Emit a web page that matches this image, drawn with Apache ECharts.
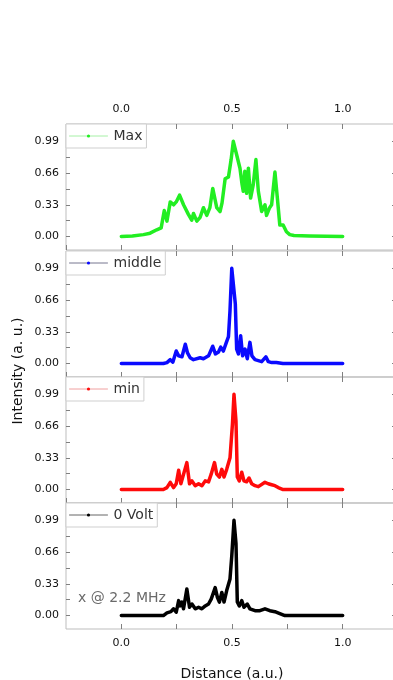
<!DOCTYPE html>
<html>
<head>
<meta charset="utf-8">
<script src="https://cdn.jsdelivr.net/npm/echarts@6/dist/echarts.min.js"></script>
<style>
html,body{margin:0;padding:0;background:#fff;}
#chart{width:393px;height:680px;}
</style>
</head>
<body>
<div id="chart"></div>
<script>
// ---- data ----
var seriesNames = ['Max', 'middle', 'min', '0 Volt'];
var seriesColors = ['#22ee22', '#0a0aff', '#ff0a0a', '#000000'];
var legendLineColors = ['#a6f0a6', '#777790', '#f0a0a0', '#666666'];

var distMax = [0,0.05,0.10,0.13,0.16,0.18,0.194,0.206,0.221,0.236,0.248,0.263,0.281,0.303,0.318,0.326,0.341,0.356,0.371,0.386,0.40,0.413,0.431,0.446,0.455,0.469,0.484,0.496,0.506,0.521,0.536,0.545,0.551,0.558,0.566,0.574,0.584,0.596,0.608,0.619,0.634,0.649,0.656,0.67,0.679,0.694,0.705,0.716,0.731,0.746,0.761,0.78,0.85,1.0];
var intMax  = [0,0.005,0.02,0.035,0.07,0.09,0.27,0.16,0.36,0.33,0.36,0.43,0.33,0.23,0.17,0.24,0.16,0.2,0.3,0.22,0.3,0.5,0.3,0.26,0.35,0.6,0.62,0.8,0.99,0.85,0.71,0.55,0.47,0.68,0.45,0.71,0.4,0.54,0.8,0.47,0.26,0.33,0.22,0.3,0.33,0.67,0.4,0.12,0.12,0.05,0.02,0.01,0.005,0];

var distMiddle = [0,0.19,0.206,0.221,0.233,0.248,0.259,0.274,0.289,0.299,0.311,0.326,0.356,0.371,0.394,0.413,0.425,0.439,0.449,0.461,0.473,0.484,0.491,0.499,0.507,0.515,0.521,0.529,0.539,0.548,0.559,0.569,0.581,0.59,0.604,0.619,0.634,0.653,0.664,0.68,0.70,0.73,1.0];
var intMiddle  = [0,0,0.01,0.04,0.015,0.13,0.08,0.07,0.2,0.11,0.06,0.04,0.06,0.05,0.08,0.18,0.1,0.12,0.17,0.13,0.21,0.28,0.55,0.99,0.98,0.62,0.15,0.1,0.29,0.08,0.15,0.05,0.22,0.08,0.04,0.03,0.02,0.07,0.02,0.01,0.01,0,0];

var distMin = [0,0.19,0.206,0.221,0.236,0.248,0.259,0.269,0.278,0.296,0.308,0.319,0.334,0.349,0.364,0.379,0.394,0.406,0.421,0.431,0.443,0.454,0.464,0.476,0.491,0.502,0.509,0.518,0.524,0.533,0.544,0.554,0.566,0.577,0.589,0.604,0.619,0.649,0.664,0.679,0.694,0.709,0.731,1.0];
var intMin  = [0,0,0.02,0.075,0.02,0.06,0.2,0.06,0.04,0.28,0.06,0.09,0.04,0.06,0.04,0.09,0.08,0.16,0.28,0.16,0.13,0.21,0.13,0.21,0.33,0.68,0.99,0.71,0.13,0.09,0.18,0.09,0.08,0.12,0.06,0.04,0.03,0.075,0.06,0.05,0.04,0.02,0,0];

var distVolt = [0,0.19,0.206,0.224,0.236,0.248,0.259,0.266,0.274,0.281,0.296,0.308,0.319,0.334,0.349,0.364,0.379,0.394,0.406,0.424,0.434,0.443,0.454,0.464,0.476,0.491,0.499,0.509,0.518,0.524,0.533,0.544,0.554,0.569,0.581,0.604,0.626,0.649,0.671,0.694,0.716,0.739,1.0];
var intVolt  = [0,0,0.028,0.04,0.07,0.034,0.155,0.1,0.14,0.07,0.275,0.086,0.12,0.07,0.086,0.07,0.1,0.12,0.17,0.29,0.19,0.14,0.24,0.14,0.26,0.38,0.62,0.99,0.75,0.14,0.1,0.155,0.086,0.12,0.07,0.05,0.05,0.07,0.05,0.04,0.02,0,0];

var yLabelValues = [0, 0.33, 0.66, 0.99];
var yTickValues = [0, 0.165, 0.33, 0.495, 0.66, 0.825, 0.99];
var xLabelValues = [0, 0.5, 1.0];
var annotationText = 'x @ 2.2 MHz';
var xTitle = 'Distance (a.u.)';
var yTitle = 'Intensity (a. u.)';

var dists = [distMax, distMiddle, distMin, distVolt];
var ints = [intMax, intMiddle, intMin, intVolt];

// ---- layout ----
var gridTops = [124, 251, 377, 503];
var gridH = 126;
var frameColor = '#bdbdbd';
var tickColor = '#808080';
var labelFont = 'DejaVu Sans';

var chart = echarts.init(document.getElementById('chart'), null, {renderer: 'canvas'});

var grids = [], xAxes = [], yAxes = [], series = [], legends = [];
function xFmt(v) {
  for (var k = 0; k < xLabelValues.length; k++) {
    if (Math.abs(v - xLabelValues[k]) < 1e-6) return v.toFixed(1);
  }
  return '';
}
for (var i = 0; i < 4; i++) {
  grids.push({
    left: 66, top: gridTops[i], width: 332, height: gridH,
    outerBoundsMode: 'none', containLabel: false,
    show: true, borderColor: frameColor, borderWidth: 1, backgroundColor: 'transparent'
  });
  var baseX = {
    type: 'value', gridIndex: i, min: -0.25, max: 1.25, interval: 0.25,
    axisLine: {show: false, onZero: false},
    axisTick: {show: true, inside: true, length: 5, lineStyle: {color: tickColor, width: 1}},
    splitLine: {show: false}
  };
  // bottom axis
  xAxes.push(Object.assign({}, baseX, {
    position: 'bottom',
    axisLabel: {show: i === 3, formatter: xFmt, color: '#111', fontFamily: labelFont, fontSize: 11, margin: 9, showMaxLabel: false, showMinLabel: false},
    name: i === 3 ? xTitle : '',
    nameLocation: 'middle', nameGap: 38,
    nameTextStyle: {color: '#111', fontFamily: labelFont, fontSize: 14}
  }));
  // top axis
  xAxes.push(Object.assign({}, baseX, {
    position: 'top',
    axisLabel: {show: i === 0, formatter: xFmt, color: '#111', fontFamily: labelFont, fontSize: 11, margin: 9, showMaxLabel: false, showMinLabel: false}
  }));
  var baseY = {
    type: 'value', gridIndex: i, min: -0.14, max: 1.17,
    axisLine: {show: false, onZero: false}, splitLine: {show: false}
  };
  yAxes.push(Object.assign({}, baseY, {
    position: 'left',
    axisTick: {show: true, inside: true, length: 4, customValues: yTickValues, lineStyle: {color: tickColor}},
    axisLabel: {show: true, customValues: yLabelValues, formatter: function (v) { return v.toFixed(2); },
      color: '#111', fontFamily: labelFont, fontSize: 11, margin: 7}
  }));
  yAxes.push(Object.assign({}, baseY, {
    position: 'right',
    axisTick: {show: true, inside: true, length: 6, customValues: yLabelValues, lineStyle: {color: tickColor}},
    axisLabel: {show: false}
  }));
  var pts = [];
  for (var j = 0; j < dists[i].length; j++) pts.push([dists[i][j], ints[i][j]]);
  series.push({
    name: seriesNames[i], type: 'line', xAxisIndex: 2 * i, yAxisIndex: 2 * i,
    data: pts, showSymbol: false, symbol: 'circle', symbolSize: 3,
    color: seriesColors[i],
    lineStyle: {width: 3.5, color: seriesColors[i], join: 'round', cap: 'round'},
    itemStyle: {color: seriesColors[i]},
    animation: false, silent: true
  });
  legends.push({
    data: [seriesNames[i]], left: 66, top: gridTops[i],
    orient: 'horizontal',
    backgroundColor: '#fff', borderColor: '#cfcfcf', borderWidth: 1,
    padding: [5, 4, 5, 3], itemWidth: 38, itemHeight: 4, itemGap: 4,
    lineStyle: {width: 1, color: legendLineColors[i]},
    itemStyle: {color: seriesColors[i]},
    textStyle: {color: '#333', fontFamily: labelFont, fontSize: 14, padding: [0, 0, 0, 1]},
    selectedMode: false
  });
}

var option = {
  backgroundColor: '#fff',
  animation: false,
  grid: grids,
  xAxis: xAxes,
  yAxis: yAxes,
  legend: legends,
  series: series,
  graphic: [
    {type: 'text', x: 18, y: 371, rotation: Math.PI / 2,
      style: {text: yTitle, fill: '#111', font: '14px "DejaVu Sans"', textAlign: 'center', textVerticalAlign: 'middle'}},
    {type: 'text', x: 78, y: 598,
      style: {text: annotationText, fill: '#6a6a6a', font: '14px "DejaVu Sans"', textAlign: 'left', textVerticalAlign: 'middle'}}
  ]
};
chart.setOption(option);
</script>
</body>
</html>
